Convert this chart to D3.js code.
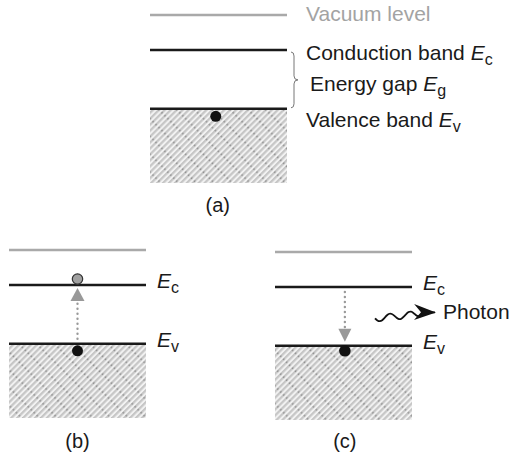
<!DOCTYPE html>
<html>
<head>
<meta charset="utf-8">
<script src="https://cdn.jsdelivr.net/npm/d3@7"></script>
<style>
  body { margin: 0; background: #fff; }
  text { font-family: "Liberation Sans", Arial, sans-serif; }
</style>
</head>
<body>
<div id="chart"></div>
<script>
// band levels, energy relative to vacuum (arbitrary units)
const levelKeys = ["vac", "c", "v"]
const levelEnergy = [0, -1, -2.68]
const bottomEnergy = -4.8
const levelNames = ["Vacuum level", "Conduction band", "Valence band"]
const levelSubs = ["", "c", "v"]
const gapName = "Energy gap"
const gapSub = "g"

// panels
const panelIds = ["a", "b", "c"]
const panelCaptions = ["(a)", "(b)", "(c)"]
const electronPos = [0.48, 0.5, 0.51]   // fraction along the band
const transition = ["none", "absorb", "emit"]
const photonLabel = "Photon"

const width = 510, height = 460
const layout = {
    a: { x0: 150, x1: 287, top: 15, caption: 212 },
    b: { x0: 9, x1: 146, top: 250, caption: 448 },
    c: { x0: 275, x1: 412, top: 252, caption: 448 }
}
const pxPerUnit = 35

const svg = d3.select("#chart").append("svg")
    .attr("width", width)
    .attr("height", height)

// hatch for the filled valence band
const defs = svg.append("defs")
const pat = defs.append("pattern")
    .attr("id", "hatch")
    .attr("patternUnits", "userSpaceOnUse")
    .attr("width", 4.2)
    .attr("height", 12.6)
    .attr("patternTransform", "rotate(45)")
pat.append("rect").attr("width", 4.2).attr("height", 12.6).attr("fill", "#f2f2f2")
pat.append("rect").attr("x", 0).attr("width", 2.2).attr("height", 12.6).attr("fill", "#c6c6c6")
pat.append("circle").attr("cx", 1.1).attr("cy", 3).attr("r", 0.9).attr("fill", "#8c8c8c")

defs.append("marker")
    .attr("id", "photonHead")
    .attr("viewBox", "0 0 22 16")
    .attr("refX", 21).attr("refY", 8)
    .attr("markerWidth", 22).attr("markerHeight", 16)
    .attr("markerUnits", "userSpaceOnUse")
    .attr("orient", "auto")
  .append("path")
    .attr("d", "M0,0 L22,8 L0,16 L7,8 Z")
    .attr("fill", "#111")

function addLabel(g, x, y, main, sub, opts = {}) {
    const t = g.append("text")
        .attr("x", x).attr("y", y)
        .attr("font-size", opts.size || 21)
        .attr("fill", opts.color || "#1a1a1a")
    if (main) t.append("tspan").text(main + " ")
    t.append("tspan").attr("font-style", "italic").text("E")
    t.append("tspan").attr("font-size", 16).attr("dy", 5).text(sub)
    return t
}

panelIds.forEach((id, i) => {
    const L = layout[id]
    const x = d3.scaleLinear().domain([0, 1]).range([L.x0, L.x1])
    const y = d3.scaleLinear().domain([0, -1]).range([L.top, L.top + pxPerUnit])
    const g = svg.append("g").attr("class", "panel-" + id)

    // filled band
    g.append("rect")
        .attr("x", x(0))
        .attr("y", y(levelEnergy[2]))
        .attr("width", x(1) - x(0))
        .attr("height", y(bottomEnergy) - y(levelEnergy[2]))
        .attr("fill", "url(#hatch)")

    // levels
    g.selectAll(".level")
        .data(levelKeys)
        .join("line")
        .attr("class", "level")
        .attr("x1", x(0)).attr("x2", x(1))
        .attr("y1", (d, j) => y(levelEnergy[j]))
        .attr("y2", (d, j) => y(levelEnergy[j]))
        .attr("stroke", d => d === "vac" ? "#a9a9a9" : "#1a1a1a")
        .attr("stroke-width", 2.6)

    const yc = y(levelEnergy[1]), yv = y(levelEnergy[2])
    const ex = x(electronPos[i])

    if (id === "a") {
        const lx = 306
        g.append("text").attr("x", lx).attr("y", y(levelEnergy[0]) + 6)
            .attr("font-size", 21).attr("fill", "#a3a3a3").text(levelNames[0])
        addLabel(g, lx, yc + 10, levelNames[1], levelSubs[1])
        addLabel(g, lx + 4, (yc + yv) / 2 + 12, gapName, gapSub)
        addLabel(g, lx, yv + 18, levelNames[2], levelSubs[2])

        // brace
        const bx = x(1) + 6, top = yc + 2, bot = yv - 1, mid = (top + bot) / 2
        const p = d3.path()
        p.moveTo(bx - 2, top)
        p.quadraticCurveTo(bx + 1, top, bx + 1, top + 4)
        p.lineTo(bx + 1, mid - 4)
        p.quadraticCurveTo(bx + 1, mid, bx + 5, mid)
        p.quadraticCurveTo(bx + 1, mid, bx + 1, mid + 4)
        p.lineTo(bx + 1, bot - 4)
        p.quadraticCurveTo(bx + 1, bot, bx - 2, bot)
        g.append("path").attr("d", p.toString())
            .attr("fill", "none").attr("stroke", "#777").attr("stroke-width", 1)

        g.append("circle").attr("cx", ex).attr("cy", yv + 7.5).attr("r", 5.5).attr("fill", "#111")
    } else {
        addLabel(g, x(1) + 11, yc + 3, "", levelSubs[1])
        addLabel(g, x(1) + 11, yv + 3, "", levelSubs[2])
    }

    if (transition[i] === "absorb") {
        g.append("line")
            .attr("x1", ex).attr("x2", ex)
            .attr("y1", yv - 5).attr("y2", yc + 18)
            .attr("stroke", "#9a9a9a").attr("stroke-width", 2.4)
            .attr("stroke-linecap", "round").attr("stroke-dasharray", "0 5")
        g.append("path")
            .attr("d", `M${ex},${yc + 3} L${ex + 7},${yc + 16} L${ex - 7},${yc + 16} Z`)
            .attr("fill", "#999")
        g.append("circle").attr("cx", ex).attr("cy", yc - 6).attr("r", 5.2)
            .attr("fill", "#a0a0a0").attr("stroke", "#333").attr("stroke-width", 1.2)
        g.append("circle").attr("cx", ex).attr("cy", yv + 7).attr("r", 5.5).attr("fill", "#111")
    }

    if (transition[i] === "emit") {
        g.append("line")
            .attr("x1", ex).attr("x2", ex)
            .attr("y1", yc + 5).attr("y2", yv - 18)
            .attr("stroke", "#9a9a9a").attr("stroke-width", 2.4)
            .attr("stroke-linecap", "round").attr("stroke-dasharray", "0 5")
        g.append("path")
            .attr("d", `M${ex - 6.5},${yv - 17} L${ex + 6.5},${yv - 17} L${ex},${yv - 4} Z`)
            .attr("fill", "#999")
        g.append("circle").attr("cx", ex).attr("cy", yv + 5).attr("r", 5.8).attr("fill", "#111")

        // photon wave
        const wx0 = x(1) - 37, wx1 = x(1) + 23
        const wy = (yc + yv) / 2 + 2
        const wave = d3.line().curve(d3.curveBasis)
        const pts = d3.range(0, 1.0001, 0.04).map(t => [
            wx0 + t * (wx1 - wx0),
            wy - t * 6 + Math.sin(t * Math.PI * 6) * 3.6 * (t < 0.65 ? 1 : Math.max(0, (1 - t) / 0.35))
        ])
        g.append("path").attr("d", wave(pts))
            .attr("fill", "none").attr("stroke", "#111").attr("stroke-width", 1.8)
            .attr("marker-end", "url(#photonHead)")
        g.append("text").attr("x", x(1) + 31).attr("y", wy + 1)
            .attr("font-size", 21).attr("fill", "#1a1a1a").text(photonLabel)
    }

    g.append("text")
        .attr("x", ex + (id === "a" ? 2 : 0)).attr("y", L.caption)
        .attr("text-anchor", "middle")
        .attr("font-size", 20).attr("fill", "#1a1a1a")
        .text(panelCaptions[i])
})
</script>
</body>
</html>
